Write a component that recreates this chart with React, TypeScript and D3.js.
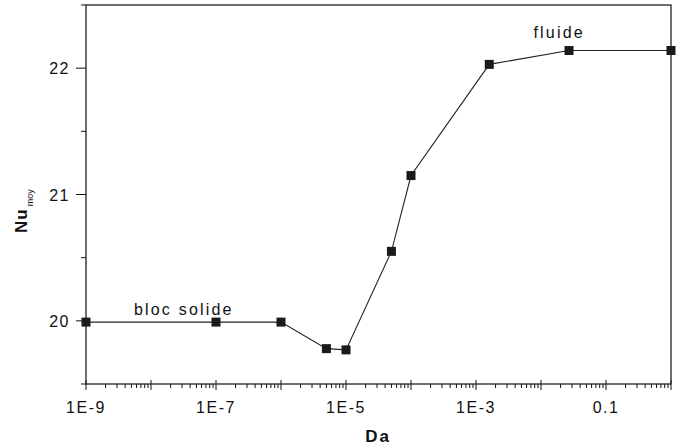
import React, { useEffect, useRef } from "react";
import * as d3 from "d3";

const daValues = [1e-9, 1e-7, 1e-6, 5e-6, 1e-5, 5e-5, 1e-4, 0.0016, 0.027, 1];
const nuValues = [19.99, 19.99, 19.99, 19.78, 19.77, 20.55, 21.15, 22.03, 22.14, 22.14];

const xLabelTicks = [1e-9, 1e-7, 1e-5, 1e-3, 0.1];
const xLabelText = ["1E-9", "1E-7", "1E-5", "1E-3", "0.1"];
const yTicks = [20, 21, 22];
const yMinorTicks = [19.5, 20.5, 21.5, 22.5];

const annotations = [
  { text: "bloc solide", da: 3.2e-8, nu: 20.05 },
  { text: "fluide", da: 0.019, nu: 22.24 },
];

const FONT = "'Liberation Sans', Arial, sans-serif";

export default function App() {
  const ref = useRef<SVGSVGElement>(null);

  useEffect(() => {
    const width = 681;
    const height = 446;
    const margin = { top: 5, right: 10, bottom: 62, left: 86 };

    const svg = d3.select(ref.current).attr("width", width).attr("height", height);
    svg.selectAll("*").remove();

    const x = d3.scaleLog().domain([1e-9, 1]).range([margin.left, width - margin.right]);
    const y = d3.scaleLinear().domain([19.5, 22.5]).range([height - margin.bottom, margin.top]);

    const x0 = margin.left;
    const x1 = width - margin.right;
    const y0 = height - margin.bottom;
    const y1 = margin.top;

    // minor / major ticks on log axis
    const majors = d3.range(-9, 1).map((p) => Math.pow(10, p));
    const minors: number[] = [];
    d3.range(-9, 0).forEach((p) => {
      for (let k = 2; k <= 9; k++) minors.push(k * Math.pow(10, p));
    });

    const ticks = svg.append("g").attr("stroke", "#111").attr("stroke-width", 1);
    ticks.selectAll(".xminor").data(minors).enter().append("line")
      .attr("x1", (d) => x(d)).attr("x2", (d) => x(d))
      .attr("y1", y0).attr("y2", y0 + 4);
    ticks.selectAll(".xmajor").data(majors).enter().append("line")
      .attr("x1", (d) => x(d)).attr("x2", (d) => x(d))
      .attr("y1", y0 - 4).attr("y2", y0 + 6);

    ticks.selectAll(".ymajor").data(yTicks).enter().append("line")
      .attr("x1", x0 - 10).attr("x2", x0)
      .attr("y1", (d) => y(d)).attr("y2", (d) => y(d));
    ticks.selectAll(".yminor").data(yMinorTicks).enter().append("line")
      .attr("x1", x0 - 5).attr("x2", x0)
      .attr("y1", (d) => y(d)).attr("y2", (d) => y(d));

    // frame
    svg.append("rect")
      .attr("x", x0).attr("y", y1)
      .attr("width", x1 - x0).attr("height", y0 - y1)
      .attr("fill", "none").attr("stroke", "#222").attr("stroke-width", 1.3);

    // tick labels
    svg.append("g").selectAll("text").data(xLabelTicks).enter().append("text")
      .attr("x", (d) => x(d))
      .attr("y", y0 + 29)
      .attr("text-anchor", "middle")
      .attr("font-family", FONT).attr("font-size", 16).attr("letter-spacing", 1.5)
      .attr("fill", "#111")
      .text((_, i) => xLabelText[i]);

    svg.append("g").selectAll("text").data(yTicks).enter().append("text")
      .attr("x", x0 - 16)
      .attr("y", (d) => y(d) + 6)
      .attr("text-anchor", "end")
      .attr("font-family", FONT).attr("font-size", 16).attr("letter-spacing", 1.5)
      .attr("fill", "#111")
      .text((d) => d);

    // axis titles
    svg.append("text")
      .attr("x", 378).attr("y", 442)
      .attr("text-anchor", "middle")
      .attr("font-family", FONT).attr("font-size", 17).attr("font-weight", "bold")
      .attr("letter-spacing", 2).attr("fill", "#111")
      .text("Da");

    const yTitle = svg.append("text")
      .attr("transform", "translate(27,233) rotate(-90)")
      .attr("font-family", FONT).attr("fill", "#111");
    yTitle.append("tspan").attr("font-size", 17).attr("font-weight", "bold").attr("letter-spacing", 1).text("Nu");
    yTitle.append("tspan").attr("font-size", 9).attr("dx", 2).attr("dy", 6).text("moy");

    // line + markers
    const pts = daValues.map((d, i) => [d, nuValues[i]] as [number, number]);
    const line = d3.line<[number, number]>().x((d) => x(d[0])).y((d) => y(d[1]));
    svg.append("path").datum(pts)
      .attr("d", line)
      .attr("fill", "none").attr("stroke", "#222").attr("stroke-width", 1.1);

    svg.append("g").selectAll("rect").data(pts).enter().append("rect")
      .attr("x", (d) => x(d[0]) - 4.5)
      .attr("y", (d) => y(d[1]) - 4.5)
      .attr("width", 9).attr("height", 9)
      .attr("fill", "#1a1a1a");

    // annotations
    svg.append("g").selectAll("text").data(annotations).enter().append("text")
      .attr("x", (d) => x(d.da))
      .attr("y", (d) => y(d.nu))
      .attr("text-anchor", "middle")
      .attr("font-family", FONT).attr("font-size", 16).attr("letter-spacing", 2.2)
      .attr("fill", "#111")
      .text((d) => d.text);
  }, []);

  return (
    <svg ref={ref} style={{ position: "absolute", left: 0, top: 0, background: "#fff" }}></svg>
  );
}
